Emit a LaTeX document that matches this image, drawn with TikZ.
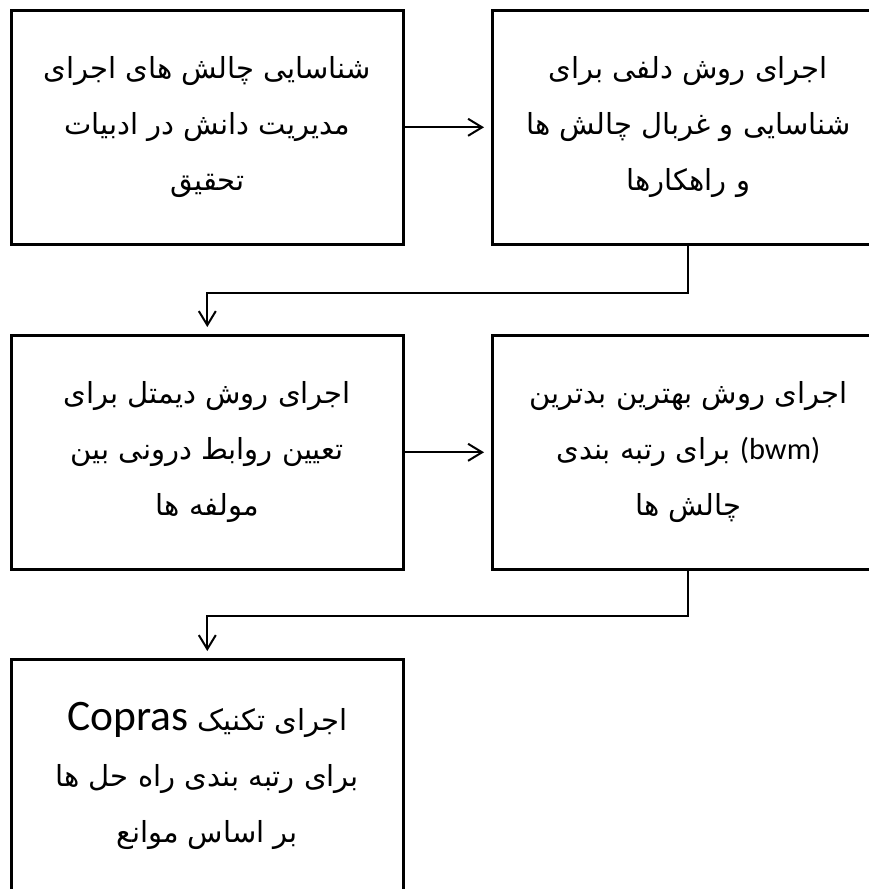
\documentclass[tikz,border=0pt]{standalone}
\usepackage{fontspec}
\setmainfont{Liberation Serif}
\newfontfamily\arabicfont[Script=Arabic]{DejaVu Sans}
\newfontfamily\latsmall[Scale=1.05]{Carlito}
\newfontfamily\latbig[Scale=1.5]{Carlito}
\TeXXeTstate=1
\usetikzlibrary{arrows.meta}
\newcommand{\rl}[1]{\beginR #1\endR}
\newcommand{\lt}[2]{\beginL{#1#2}\endL}
\begin{document}
\begin{tikzpicture}[x=1pt,y=-1pt,
  stepbox/.style={draw, line width=2.6pt, minimum width=392pt, minimum height=234pt,
    inner sep=0pt, align=center, anchor=north west,
    font=\arabicfont\fontsize{29}{56}\selectfont},
  conn/.style={line width=2pt, -{Straight Barb[length=14pt,width=17pt,line width=2pt]}, shorten >=7pt}]
\useasboundingbox (0,0) rectangle (869,889);
\node[stepbox] (b1) at (10,9) {\rl{شناسایی چالش های اجرای}\\ \rl{مدیریت دانش در ادبیات}\\ \rl{تحقیق}};
\node[stepbox] (b2) at (491,9) {\rl{اجرای روش دلفی برای}\\ \rl{شناسایی و غربال چالش ها}\\ \rl{و راهکارها}};
\node[stepbox] (b3) at (10,334) {\rl{اجرای روش دیمتل برای}\\ \rl{تعیین روابط درونی بین}\\ \rl{مولفه ها}};
\node[stepbox] (b4) at (491,334) {\rl{اجرای روش بهترین بدترین}\\ \rl{\lt{\latsmall}{(bwm)} برای رتبه بندی}\\ \rl{چالش ها}};
\node[stepbox] (b5) at (10,658) {\rl{اجرای تکنیک \lt{\latbig}{Copras}}\\ \rl{برای رتبه بندی راه حل ها}\\ \rl{بر اساس موانع}};
\draw[conn] (b1.east) -- (b2.west);
\draw[conn] (b3.east) -- (b4.west);
\draw[conn] (b2.south) -- ++(0,47) -| (b3.north);
\draw[conn] (b4.south) -- ++(0,45) -| (b5.north);
\end{tikzpicture}
\end{document}
